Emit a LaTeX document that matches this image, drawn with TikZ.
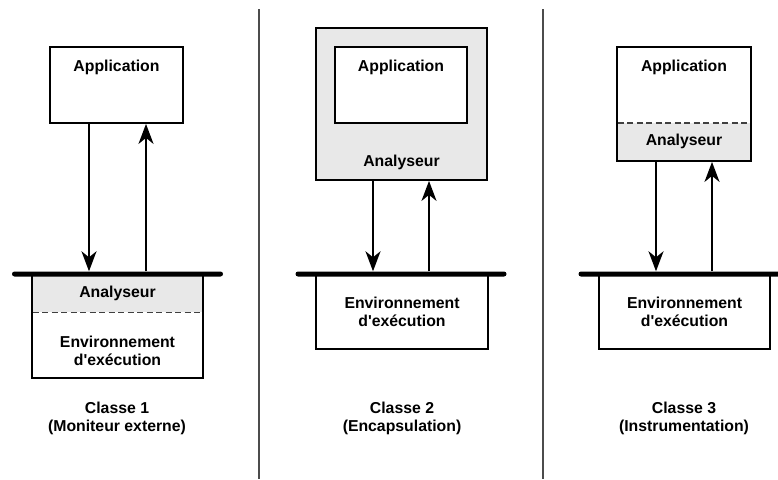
\documentclass[tikz,border=0pt]{standalone}
\usepackage{fontspec}
\setmainfont{Liberation Sans}
\usetikzlibrary{arrows.meta, positioning}

\definecolor{anagray}{HTML}{E8E8E8}

\begin{document}
\begin{tikzpicture}[
  x=1pt, y=-1pt,
  box/.style={draw, line width=1.8pt, inner sep=0pt},
  txt/.style={font=\fontsize{15.8}{18}\selectfont\bfseries, align=center, inner sep=0pt},
  band/.style={fill=anagray, inner sep=0pt},
  bar/.style={fill=black, rounded corners=2.5pt, minimum width=211pt,
    minimum height=5pt, inner sep=0pt},
  arrow/.style={-{Stealth[length=20pt, width=15pt, inset=6pt]}, line width=2pt},
  split/.style={dash pattern=on 6pt off 3.5pt, line width=1.6pt, black!75},
  sep/.style={line width=1.5pt, black!70}
]
  \useasboundingbox (0,0) rectangle (778,479);

  % Classe 1
  \node[box, minimum width=133pt, minimum height=76pt] (app1) at (116.5,85) {};
  \node[txt] (appt1) at (116.5,67.5) {Application};
  \node[box, minimum width=171pt, minimum height=104pt] (env1) at (117.5,326) {};
  \node[band, txt, anchor=north, minimum width=169.2pt, minimum height=37pt]
    (ana1) at ([yshift=-1.8pt]env1.north) {Analyseur};
  \draw[split] (ana1.south west) -- (ana1.south east);
  \node[txt] (envt1) at (117.5,351) {Environnement\\d\textquotesingle exécution};
  \node[bar] (bar1) at (117.5,274) {};
  \draw[arrow] ([xshift=-27.5pt]app1.south) -- ([xshift=-27.5pt]app1.south |- bar1.north);
  \draw[arrow] ([xshift=29.5pt]app1.south |- bar1.north) -- ([xshift=29.5pt]app1.south);
  \node[txt] (cap1) at (117,418.5) {Classe 1\\(Moniteur externe)};

  % Classe 2
  \node[box, fill=anagray, minimum width=171pt, minimum height=152pt] (ana2) at (401.5,104) {};
  \node[box, fill=white, minimum width=132pt, minimum height=76pt] (app2) at (401,85) {};
  \node[txt] (appt2) at (401,67.5) {Application};
  \node[txt] (anat2) at (401.5,162) {Analyseur};
  \node[bar] (bar2) at (401,274) {};
  \node[box, txt, minimum width=172pt, minimum height=75pt] (env2) at (402,311.5)
    {Environnement\\d\textquotesingle exécution};
  \draw[arrow] ([xshift=-28.5pt]ana2.south) -- ([xshift=-28.5pt]ana2.south |- bar2.north);
  \draw[arrow] ([xshift=27.5pt]ana2.south |- bar2.north) -- ([xshift=27.5pt]ana2.south);
  \node[txt] (cap2) at (402,418.5) {Classe 2\\(Encapsulation)};

  % Classe 3
  \node[box, minimum width=134pt, minimum height=114pt] (app3) at (684,104) {};
  \node[band, txt, anchor=south, minimum width=132.2pt, minimum height=37pt]
    (ana3) at ([yshift=1.8pt]app3.south) {Analyseur};
  \draw[split] (ana3.north west) -- (ana3.north east);
  \node[txt] (appt3) at (684,67.5) {Application};
  \node[bar] (bar3) at (684,274) {};
  \node[box, txt, minimum width=171pt, minimum height=75pt] (env3) at (684.5,311.5)
    {Environnement\\d\textquotesingle exécution};
  \draw[arrow] ([xshift=-28pt]app3.south) -- ([xshift=-28pt]app3.south |- bar3.north);
  \draw[arrow] ([xshift=28pt]app3.south |- bar3.north) -- ([xshift=28pt]app3.south);
  \node[txt] (cap3) at (684,418.5) {Classe 3\\(Instrumentation)};

  % separators
  \draw[sep] (259,9) -- (259,479);
  \draw[sep] (543,9) -- (543,479);
\end{tikzpicture}
\end{document}
